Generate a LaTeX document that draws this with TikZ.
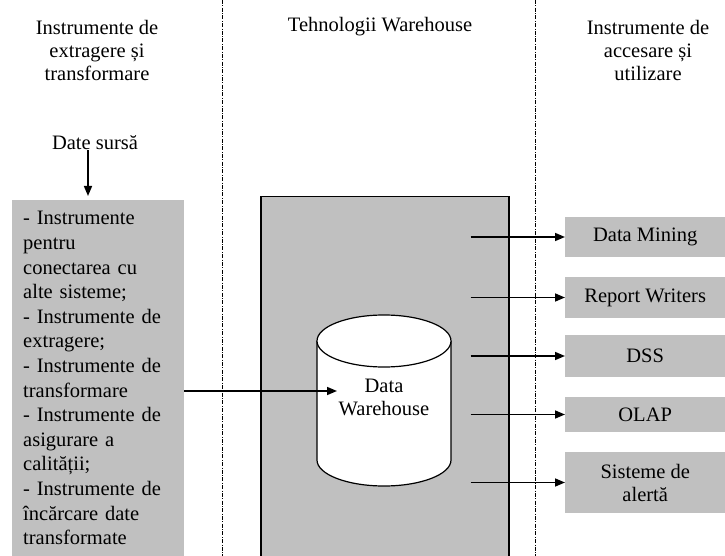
\documentclass[tikz,border=0pt]{standalone}
\usepackage{fontspec}
\setmainfont{Liberation Serif}
\usepackage{tikz}
\usetikzlibrary{arrows.meta,shapes.geometric,positioning}
\definecolor{silver}{HTML}{C0C0C0}

\begin{document}
\begin{tikzpicture}[
    x=1pt, y=-1pt,
    every node/.style={font=\fontsize{20.5}{23}\selectfont},
    head/.style={align=center, inner sep=0pt},
    panel/.style={fill=silver, inner sep=0pt},
    tool/.style={fill=silver, minimum width=160pt, align=center, inner sep=0pt},
    db/.style={draw, fill=white, line width=1.2pt},
    divider/.style={line width=0.8pt, dash pattern=on 4pt off 1.5pt on 0.7pt off 1.5pt},
    arr/.style={-{Triangle[length=10pt,width=8pt]}, line width=1.5pt}
]
\useasboundingbox (0,0) rectangle (725,556);

% column separators
\draw[divider] (222,0) -- (222,556);
\draw[divider] (535,0) -- (535,556);

% column titles
\node[head] (h1) at (97,50) {Instrumente de\\extragere și\\transformare};
\node[head] (h2) at (380,27) {Tehnologii Warehouse};
\node[head] (h3) at (648,50) {Instrumente de\\accesare și\\utilizare};

% extraction side
\node[head] (src) at (95,143) {Date sursă};
\node[panel, anchor=north west, minimum width=172pt, minimum height=356pt,
      text width=150pt, align=left, font=\fontsize{20.5}{24.6}\selectfont] (tools) at (12,200)
  {- Instrumente\\pentru\\conectarea cu\\alte sisteme;\\- Instrumente de\\extragere;\\- Instrumente de\\transformare\\- Instrumente de\\asigurare a\\calității;\\- Instrumente de\\încărcare date\\transformate};

% warehouse
\node[panel, draw, line width=1.5pt, anchor=north west, minimum width=248pt,
      minimum height=380pt] (wh) at (260,196) {};
% database cylinder
\draw[db] (317,341) -- (317,460) arc[start angle=180, end angle=0, x radius=67, y radius=26] -- (451,341);
\draw[db] (384,341) ellipse [x radius=67, y radius=26];
\node[head] (dwt) at (384,397) {Data\\Warehouse};
\coordinate (dwin) at (337,391);

% access tools
\node[tool, anchor=west, minimum height=40pt] (dm) at (565,237) {Data Mining};
\node[tool, anchor=west, minimum height=41pt] (rw) at (565,297.5) {Report Writers};
\node[tool, anchor=west, minimum height=42pt] (dss) at (565,356) {DSS};
\node[tool, anchor=west, minimum height=35pt] (olap) at (565,414.5) {OLAP};
\node[tool, anchor=west, minimum height=61pt] (alert) at (565,482.5) {Sisteme de\\alertă};

\draw[arr] (src.south -| 88,0) -- ([yshift=4pt]tools.north -| 88,0);
\draw[arr] (tools.east |- dwin) -- (dwin);
\foreach \t in {dm,rw,dss,olap,alert}
  \draw[arr] ([xshift=-39pt]wh.east |- \t.west) -- (\t.west);
\end{tikzpicture}
\end{document}
